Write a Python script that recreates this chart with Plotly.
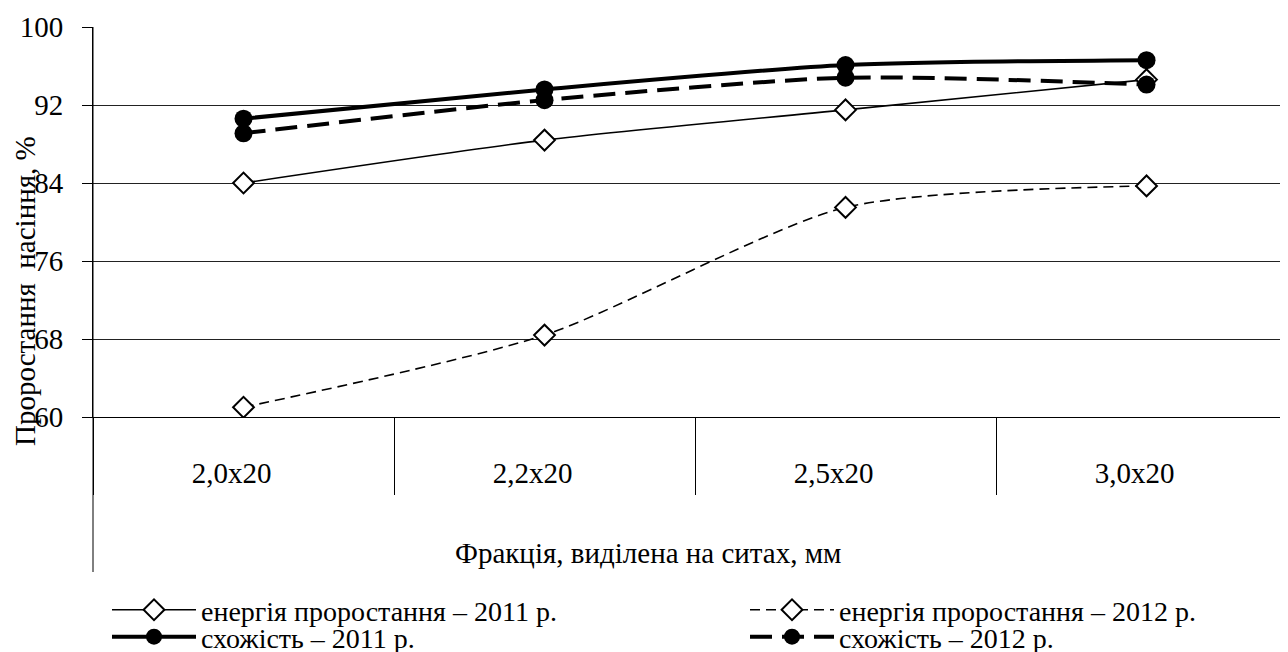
import plotly.graph_objects as go

categories = ["2,0x20", "2,2x20", "2,5x20", "3,0x20"]
energy_2011 = [84.0, 88.4, 91.5, 94.6]
energy_2012 = [61.0, 68.4, 81.5, 83.7]
germ_2011 = [90.6, 93.6, 96.1, 96.6]
germ_2012 = [89.1, 92.5, 94.8, 94.1]
y_ticks = [60, 68, 76, 84, 92, 100]

names = ["енергія проростання – 2011 р.", "енергія проростання – 2012 р.",
         "схожість – 2011 р.", "схожість – 2012 р."]

FONT = "'Liberation Serif', 'Times New Roman', serif"
FS = 29
LFS = 28

# page offset (default body margin of the html page)
OFF = 8
W, H = 1288 - OFF, 652 - OFF
# plot area in page pixels
PL, PT, PB = 93, 27, 417
L, T = PL - OFF, PT - OFF
B = H - (PB - OFF)
R = 0
pw, ph = W - L - R, H - T - B

def px_x(x):
    return (x - OFF - L) / pw

def px_y(y):
    return (PB - y) / ph

fig = go.Figure()
diamond = dict(symbol="diamond", size=16, color="white", line=dict(color="black", width=2))
circle = dict(symbol="circle", size=18, color="black", line=dict(color="black", width=0))

fig.add_trace(go.Scatter(x=categories, y=energy_2011, name=names[0], mode="lines+markers",
                         line=dict(color="black", width=1.6, shape="spline", smoothing=0.7),
                         marker=diamond, legend="legend"))
fig.add_trace(go.Scatter(x=categories, y=energy_2012, name=names[1], mode="lines+markers",
                         line=dict(color="black", width=1.6, dash="10px,6px", shape="spline", smoothing=0.7),
                         marker=diamond, legend="legend2"))
fig.add_trace(go.Scatter(x=categories, y=germ_2011, name=names[2], mode="lines+markers",
                         line=dict(color="black", width=4, shape="spline", smoothing=0.7),
                         marker=circle, legend="legend3"))
fig.add_trace(go.Scatter(x=categories, y=germ_2012, name=names[3], mode="lines+markers",
                         line=dict(color="black", width=4, dash="22px,10px", shape="spline", smoothing=0.7),
                         marker=circle, legend="legend4"))

leg_common = dict(orientation="h", xanchor="left", yanchor="middle",
                  font=dict(family=FONT, size=LFS, color="black"),
                  itemwidth=84,
                  bgcolor="rgba(0,0,0,0)", borderwidth=0, tracegroupgap=0)

fig.update_layout(
    width=W, height=H,
    margin=dict(l=L, r=R, t=T, b=B, autoexpand=False),
    paper_bgcolor="white", plot_bgcolor="white",
    font=dict(family=FONT, size=FS, color="black"),
    showlegend=True,
    legend=dict(leg_common, x=px_x(107), y=px_y(610)),
    legend2=dict(leg_common, x=px_x(745), y=px_y(610)),
    legend3=dict(leg_common, x=px_x(107), y=px_y(637)),
    legend4=dict(leg_common, x=px_x(745), y=px_y(637)),
    xaxis=dict(type="category", categoryorder="array", categoryarray=categories,
               range=[-0.5, 3.47], showgrid=False, zeroline=False,
               showline=True, linecolor="black", linewidth=1,
               ticks="outside", tickson="boundaries", ticklen=77, tickcolor="black", tickwidth=1,
               tickfont=dict(family=FONT, size=FS, color="black"),
               ticklabelshift=-12, ticklabelstandoff=30),
    yaxis=dict(range=[60, 100], tickvals=y_ticks, showgrid=True, gridcolor="#222222", gridwidth=1,
               zeroline=False, showline=True, linecolor="black", linewidth=1,
               ticks="outside", ticklen=10, tickcolor="black", tickwidth=1,
               tickfont=dict(family=FONT, size=FS, color="black"),
               ticklabelstandoff=13),
    annotations=[
        dict(text="Проростання\u00a0 насіння, %", textangle=-90, xref="paper", yref="paper",
             x=px_x(25), y=px_y(291), xanchor="center", yanchor="middle", showarrow=False,
             font=dict(family=FONT, size=FS, color="black")),
        dict(text="Фракція, виділена на ситах, мм", xref="paper", yref="paper",
             x=px_x(648), y=px_y(553), xanchor="center", yanchor="middle", showarrow=False,
             font=dict(family=FONT, size=FS, color="black")),
    ],
    shapes=[
        dict(type="line", xref="paper", yref="paper", x0=0, x1=0, y0=1, y1=px_y(572),
             line=dict(color="black", width=1)),
    ],
)

fig.write_html("out.html")
